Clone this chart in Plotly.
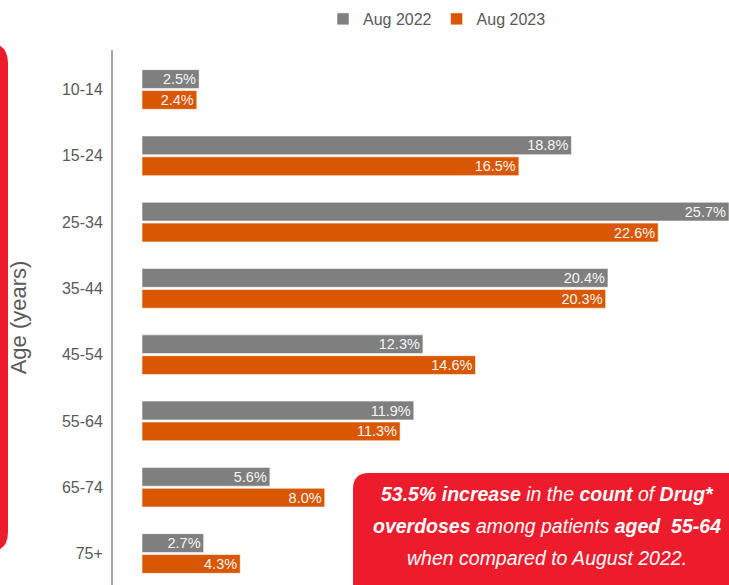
import plotly.graph_objects as go

categories = ["10-14", "15-24", "25-34", "35-44", "45-54", "55-64", "65-74", "75+"]
aug_2022 = [2.5, 18.8, 25.7, 20.4, 12.3, 11.9, 5.6, 2.7]
aug_2023 = [2.4, 16.5, 22.6, 20.3, 14.6, 11.3, 8.0, 4.3]
series_names = ["Aug 2022", "Aug 2023"]

W, H = 729, 585
ML, MR, MT, MB = 113, 0, 50, 0
PW, PH = W - ML - MR, H - MT - MB


def px(x):
    return (x - ML) / PW


def py(y):
    return (H - y) / PH


def rounded_rect(x0, y0, x1, y1, r):
    pts = [
        f"M{px(x0 + r)},{py(y0)}",
        f"L{px(x1 - r)},{py(y0)}",
        f"Q{px(x1)},{py(y0)} {px(x1)},{py(y0 + r)}",
        f"L{px(x1)},{py(y1 - r)}",
        f"Q{px(x1)},{py(y1)} {px(x1 - r)},{py(y1)}",
        f"L{px(x0 + r)},{py(y1)}",
        f"Q{px(x0)},{py(y1)} {px(x0)},{py(y1 - r)}",
        f"L{px(x0)},{py(y0 + r)}",
        f"Q{px(x0)},{py(y0)} {px(x0 + r)},{py(y0)}",
        "Z",
    ]
    return " ".join(pts)


GRAY = "#7F7F7F"
ORANGE = "#D95700"
RED = "#EC1C2D"
TXT = "#595959"

fig = go.Figure()
for name, vals, col in [(series_names[0], aug_2022, GRAY), (series_names[1], aug_2023, ORANGE)]:
    fig.add_trace(go.Bar(
        y=categories, x=vals, name=name, orientation="h",
        marker=dict(color=col, line=dict(color="rgba(255,255,255,0.7)", width=0.8)),
        text=[f"{v:.1f}%" for v in vals],
        textposition="inside", insidetextanchor="end", textangle=0,
        textfont=dict(color="#F5F5F5", size=14.5, family="Liberation Sans, Arial"),
        constraintext="none", cliponaxis=False,
    ))

scale = (729 - 142) / 25.7
fig.update_layout(
    width=W, height=H,
    margin=dict(l=ML, r=MR, t=MT, b=MB, pad=0),
    paper_bgcolor="white", plot_bgcolor="white",
    font=dict(family="Liberation Sans, Arial", color=TXT),
    barmode="group", bargap=0.37, bargroupgap=0.1,
    showlegend=True,
    legend=dict(orientation="h", x=px(323), xanchor="left", y=py(19), yanchor="middle",
                font=dict(size=16, color=TXT), traceorder="normal", bgcolor="rgba(0,0,0,0)"),
    xaxis=dict(range=[-(142 - 113) / scale, 25.7], showgrid=False, zeroline=False,
               showticklabels=False, showline=False, fixedrange=True),
    yaxis=dict(categoryorder="array", categoryarray=categories,
               range=[7.475, -0.596], showgrid=False, zeroline=False,
               showline=True, linecolor="#A6A6A6", linewidth=2,
               ticks="", ticklabelstandoff=5,
               tickfont=dict(size=16, color=TXT),
               title=dict(text="Age (years)", font=dict(size=22, color=TXT), standoff=29)),
)

fig.add_shape(type="path", xref="paper", yref="paper",
              path=rounded_rect(-40, 43, 8, 552, 20),
              fillcolor=RED, line=dict(width=0), layer="below")
fig.add_shape(type="path", xref="paper", yref="paper",
              path=rounded_rect(353, 473, 760, 620, 16),
              fillcolor=RED, line=dict(width=0), layer="above")

lines = [
    "<i><b>53.5% increase</b> in the <b>count</b> of <b>Drug*</b></i>",
    "<i><b>overdoses</b> among patients <b>aged &nbsp;55-64</b></i>",
    "<i>when compared to August 2022.</i>",
]
for i, t in enumerate(lines):
    fig.add_annotation(text=t, xref="paper", yref="paper", x=px(547), y=py(494 + 32 * i),
                       xanchor="center", yanchor="middle", showarrow=False,
                       font=dict(size=19.5, color="white", family="Liberation Sans, Arial"))

fig.write_html("out.html")
